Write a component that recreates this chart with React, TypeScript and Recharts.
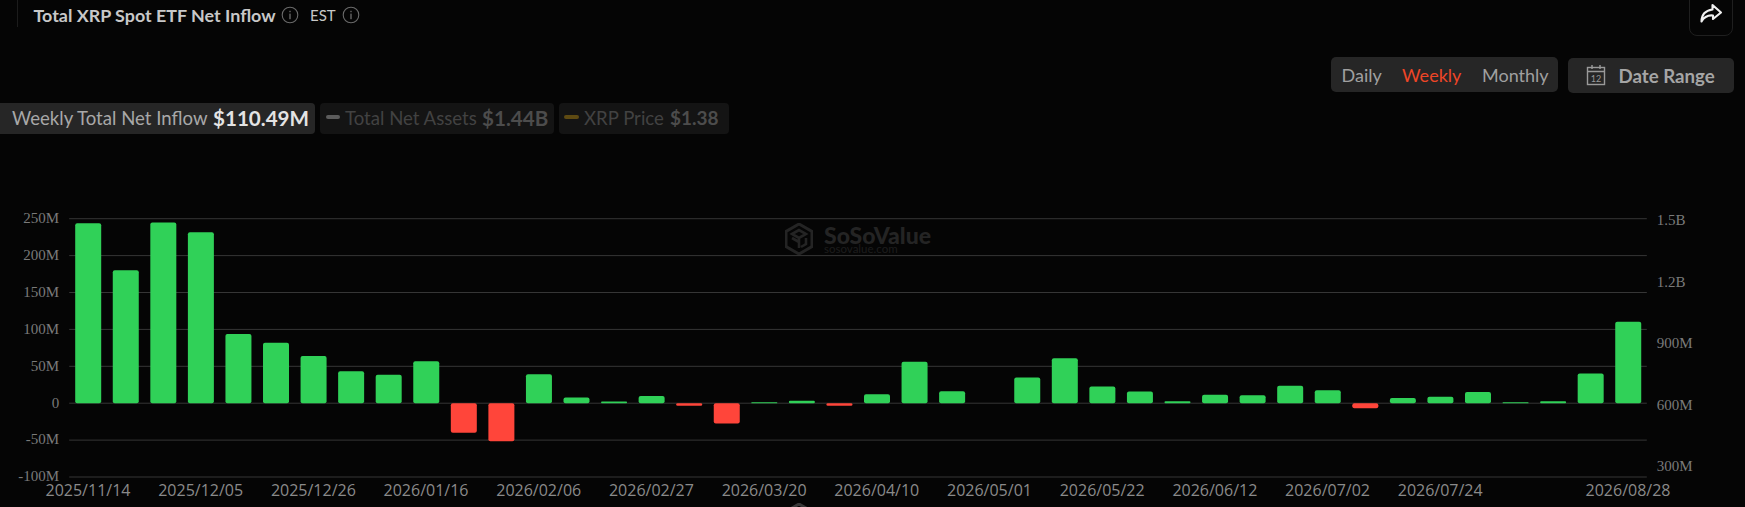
import React from "react";
import { ComposedChart, Bar, Line, Cell, XAxis, YAxis, CartesianGrid } from "recharts";

const dates = [
  "2025/11/14","2025/11/21","2025/11/28","2025/12/05","2025/12/12","2025/12/19","2025/12/26",
  "2026/01/02","2026/01/09","2026/01/16","2026/01/23","2026/01/30","2026/02/06","2026/02/13",
  "2026/02/20","2026/02/27","2026/03/06","2026/03/13","2026/03/20","2026/03/27","2026/04/03",
  "2026/04/10","2026/04/17","2026/04/24","2026/05/01","2026/05/08","2026/05/15","2026/05/22",
  "2026/05/29","2026/06/05","2026/06/12","2026/06/19","2026/06/26","2026/07/02","2026/07/10",
  "2026/07/17","2026/07/24","2026/07/31","2026/08/07","2026/08/14","2026/08/21","2026/08/28",
];
const netInflow = [
  243.8, 180, 244.7, 231.6, 93.9, 82, 64, 43.3, 38.4, 56.9, -40, -51.5, 39.3, 7.7,
  2.3, 9.9, -3.6, -27.5, 1.4, 3.2, -3.6, 12.2, 56, 16.3, 0, 34.8, 60.9, 22.6,
  15.8, 2.7, 11.3, 10.8, 23.5, 17.6, -6.8, 7.2, 8.6, 15.3, 1.4, 2.7, 40.2, 110.49,
];
// Only the latest Total Net Assets reading is visible (the series is switched off in the reference).
const latestNetAssets = 1440;
const xTicks = [
  "2025/11/14","2025/12/05","2025/12/26","2026/01/16","2026/02/06","2026/02/27","2026/03/20",
  "2026/04/10","2026/05/01","2026/05/22","2026/06/12","2026/07/02","2026/07/24","2026/08/28",
];
const leftTicks = [-100, -50, 0, 50, 100, 150, 200, 250];
const rightTicks = [300, 600, 900, 1200, 1500];

const rows = dates.map((date, i) => ({
  date,
  inflow: netInflow[i],
  assets: i === dates.length - 1 ? latestNetAssets : null,
}));
const fmtLeft = (v: number) => (v === 0 ? "0" : `${v}M`);
const fmtRight = (v: number) => (v >= 1000 ? `${(v / 1000).toFixed(1)}B` : `${v}M`);

const UI = "Lato, sans-serif";
const SERIF = "'Liberation Serif', serif";
const abs = (left: number, top: number, width: number, height: number, extra: any = {}): React.CSSProperties => ({
  position: "absolute", left, top, width, height, ...extra,
});
const Txt = ({ x, cy, size = 18, color, weight = 400, children }: any) => (
  <div style={{ position: "absolute", left: x, top: cy - 15, height: 30, lineHeight: "30px", fontFamily: UI, fontSize: size, color, fontWeight: weight, whiteSpace: "nowrap" }}>{children}</div>
);
const Info = ({ cx, cy }: any) => (
  <svg style={abs(cx - 9, cy - 9, 18, 18)} viewBox="0 0 18 18">
    <circle cx="9" cy="9" r="7.8" fill="none" stroke="#6a6a6a" strokeWidth="1.1" />
    <rect x="8.4" y="7.6" width="1.2" height="5.6" fill="#777" />
    <rect x="8.4" y="4.8" width="1.2" height="1.4" fill="#777" />
  </svg>
);
const Logo = ({ x, y, w, h, color }: any) => (
  <svg style={abs(x, y, w, h)} viewBox="0 0 28 32">
    <path d="M14 1 L27 8.5 V23.5 L14 31 L1 23.5 V8.5 Z" fill="none" stroke={color} strokeWidth="3" />
    <path d="M7 11 L14 7 L21 11 L14 15 Z M14 15 V25 M7 15 L14 19 M21 15 V21 L16 24" fill="none" stroke={color} strokeWidth="2.6" />
  </svg>
);

export default function App() {
  return (
    <div style={{ position: "fixed", left: 0, top: 0, width: 1745, height: 507, background: "#050505", overflow: "hidden" }}>
      <div style={abs(17, 0, 1, 27, { background: "#1c1c1c" })} />
      <Txt x={33.5} cy={15} size={17.9} color="#c8c8c8" weight={700}>Total XRP Spot ETF Net Inflow</Txt>
      <Info cx={290} cy={15} />
      <Txt x={310} cy={15} size={15} color="#c8c8c8">EST</Txt>
      <Info cx={351} cy={15} />

      <div style={abs(1689, -10, 44, 46, { border: "1px solid #1f1f1f", borderRadius: 8, boxSizing: "border-box" })} />
      <svg style={abs(1699, 3, 24, 22)} viewBox="0 0 24 22">
        <path d="M13.5 2 L22 9.5 L14 16 V12.5 C9 12 5 14 2.5 18.5 C2.5 12 6.5 7.5 13.5 6.5 Z" fill="none" stroke="#f0f0f0" strokeWidth="2.1" strokeLinejoin="round" />
      </svg>

      <div style={abs(1331, 57, 227, 35, { background: "#262626", borderRadius: 5 })} />
      <Txt x={1341.5} cy={75} color="#a0a0a0">Daily</Txt>
      <Txt x={1402} cy={75} color="#ee4526">Weekly</Txt>
      <Txt x={1482} cy={75} color="#a0a0a0">Monthly</Txt>

      <div style={abs(1568, 58, 166, 35, { background: "#262626", borderRadius: 5 })} />
      <svg style={abs(1586, 64, 20, 22)} viewBox="0 0 20 22">
        <rect x="1.5" y="3.5" width="17" height="17" fill="none" stroke="#9a9a9a" strokeWidth="1.4" />
        <path d="M1.5 7.5 H18.5 M6 1 V5 M14 1 V5" stroke="#9a9a9a" strokeWidth="1.4" />
        <text x="10" y="17.5" textAnchor="middle" fontFamily={UI} fontSize="9" fill="#9a9a9a">12</text>
      </svg>
      <Txt x={1618.5} cy={76} size={18.7} color="#a5a5a5" weight={700}>Date Range</Txt>

      <div style={abs(0, 103, 315, 31, { background: "#262626", borderRadius: "0 4px 4px 0" })} />
      <Txt x={12} cy={118} size={18.6} color="#a8a8a8">Weekly Total Net Inflow</Txt>
      <Txt x={213} cy={118} size={20.6} color="#e4e4e4" weight={700}>$110.49M</Txt>

      <div style={abs(320, 103, 234, 31, { background: "#141414", borderRadius: 4 })} />
      <div style={abs(326, 115, 14, 4, { background: "#5c5c5c", borderRadius: 2 })} />
      <Txt x={345} cy={118} size={18.6} color="#424242">Total Net Assets</Txt>
      <Txt x={482} cy={118} size={20.6} color="#4c4c4c" weight={700}>$1.44B</Txt>

      <div style={abs(559, 103, 170, 31, { background: "#141414", borderRadius: 4 })} />
      <div style={abs(564, 115, 15, 4, { background: "#5e4a12", borderRadius: 2 })} />
      <Txt x={584} cy={118} size={18.6} color="#424242">XRP Price</Txt>
      <Txt x={670} cy={118} size={19} color="#4c4c4c" weight={700}>$1.38</Txt>

      <Logo x={785} y={223} w={28} h={32} color="#242424" />
      <Txt x={824} cy={235} size={23} color="#242424" weight={900}>SoSoValue</Txt>
      <Txt x={824} cy={249} size={11.5} color="#1d1d1d">sosovalue.com</Txt>

      <Logo x={785} y={503} w={28} h={32} color="#383838" />
      <Txt x={824} cy={515} size={23} color="#383838" weight={900}>SoSoValue</Txt>

      <div style={{ position: "absolute", left: 0, top: 0 }}>
        <ComposedChart
          width={1745}
          height={507}
          data={rows}
          margin={{ top: 218.7, right: 0, bottom: 0, left: 0 }}
        >
          <CartesianGrid horizontal vertical={false} stroke="#363636" strokeWidth={1} yAxisId="left" />
          <XAxis
            dataKey="date"
            ticks={xTicks}
            interval={0}
            height={30}
            axisLine={false}
            tickLine={false}
            tickSize={0}
            tickMargin={8}
            tick={{ fill: "#8a8a8a", fontSize: 16, fontFamily: "'Open Sans', sans-serif" }}
          />
          <YAxis
            yAxisId="left"
            width={69.2}
            domain={[-100, 250]}
            ticks={leftTicks}
            tickFormatter={fmtLeft}
            axisLine={false}
            tickLine={false}
            tickSize={0}
            tickMargin={10}
            tick={{ fill: "#7a7a7a", fontSize: 15, fontFamily: SERIF, dy: -1 }}
          />
          <YAxis
            yAxisId="right"
            orientation="right"
            width={98.2}
            domain={[240, 1500]}
            ticks={rightTicks}
            tickFormatter={fmtRight}
            axisLine={false}
            tickLine={false}
            tickSize={0}
            tickMargin={10}
            tick={{ fill: "#7a7a7a", fontSize: 15, fontFamily: SERIF, dy: 1 }}
          />
          <Bar yAxisId="left" dataKey="inflow" barSize={26} radius={2} isAnimationActive={false}>
            {rows.map((r) => (
              <Cell key={r.date} fill={r.inflow < 0 ? "#ff453a" : "#30d158"} />
            ))}
          </Bar>
          <Line yAxisId="right" dataKey="assets" stroke="none" dot={false} activeDot={false} isAnimationActive={false} />
        </ComposedChart>
      </div>
    </div>
  );
}
